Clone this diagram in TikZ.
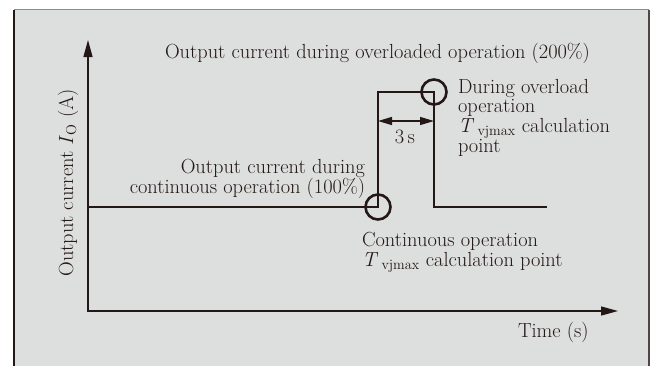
\documentclass[tikz,border=0pt]{standalone}
\usetikzlibrary{arrows.meta}
\definecolor{bggray}{RGB}{221,222,222}
\definecolor{ink}{RGB}{35,24,21}
\definecolor{framegray}{RGB}{140,140,140}
\newcommand{\tvj}{\textit{T}\,\textsubscript{vjmax}}
\begin{document}
\begin{tikzpicture}[x=1pt,y=-1pt,
  lbl/.style={font=\fontsize{20.4}{19.6}\selectfont, inner sep=0pt, outer sep=0pt, text=ink, align=left},
  axis/.style={draw=ink, line width=1.3pt, {Triangle[length=17pt,width=9pt]}-{Triangle[length=17pt,width=9pt]}},
  wave/.style={draw=ink, line width=1.3pt},
  marker/.style={draw=ink, line width=2.6pt, circle, minimum size=25pt, inner sep=0pt},
  dim/.style={draw=ink, line width=1.3pt, {Triangle[length=14pt,width=8pt]}-{Triangle[length=14pt,width=8pt]}}]
\useasboundingbox (0,0) rectangle (653,365);
\fill[bggray] (14,9) rectangle (649,367);
\draw[framegray, line width=1pt] (14,9) -- (649,9);
\draw[ink, line width=1.3pt] (14,367) -- (14,9.5);
\draw[ink!80, line width=1.2pt] (649,9.5) -- (649,367);
% axes
\coordinate (O) at (88,311);
\coordinate (ytip) at (88,40);
\coordinate (xtip) at (618,311);
\draw[axis] (ytip) -- (O) -- (xtip);
% waveform
\coordinate (s0) at (88,207);
\coordinate (s1) at (378,207);
\coordinate (s2) at (378,92);
\coordinate (s3) at (434,92);
\coordinate (s4) at (434,207);
\coordinate (s5) at (547,207);
\draw[wave] (s0) -- (s1) -- (s2) -- (s3) -- (s4) -- (s5);
\node[marker] (c1) at (s1) {};
\node[marker] (c2) at (s3) {};
% dimension
\coordinate (d1) at (378,121);
\coordinate (d2) at (434,121);
\draw[dim] (d1) -- (d2);
\node[lbl, anchor=base] (three) at (405,143) {3\,s};
% texts (base anchor = baseline of the last line)
\node[lbl, anchor=base west] (tover) at (165,58) {Output current during overloaded operation (200\%)};
\node[lbl, anchor=base east, align=right] (tcont) at (365,193) {Output current during\\continuous operation (100\%)};
\node[lbl, anchor=base west] (tol) at (458,152) {During overload\\operation\\\tvj{} calculation\\point};
\node[lbl, anchor=base west] (tcop) at (362,266) {Continuous operation\\\tvj{} calculation point};
\node[lbl, anchor=base west] (ttime) at (518,337) {Time (s)};
\node[lbl, rotate=90, anchor=base] (tylab) at (73,183) {Output current \textit{I}\textsubscript{O} (A)};
\end{tikzpicture}
\end{document}
